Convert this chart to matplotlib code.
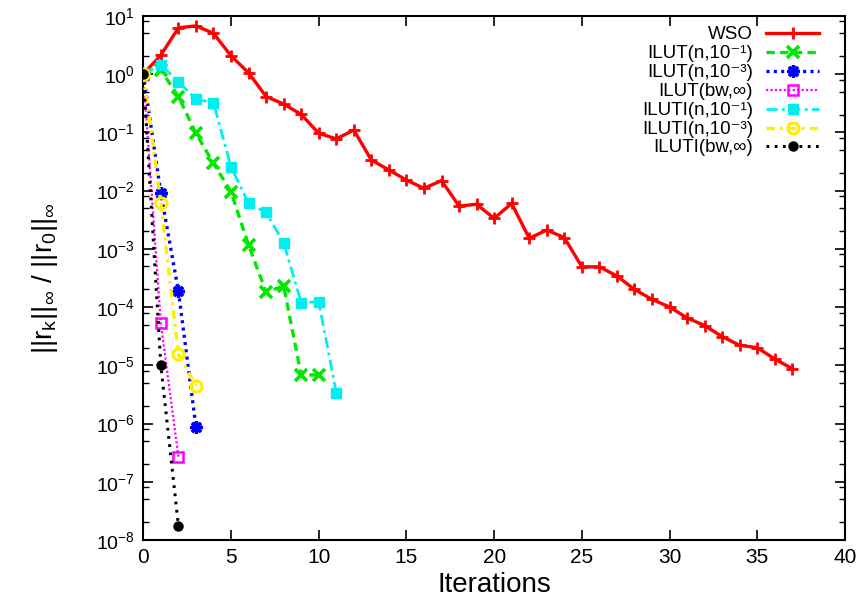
import matplotlib
matplotlib.use("Agg")
import matplotlib.pyplot as plt
from matplotlib.lines import Line2D
from matplotlib.ticker import FixedLocator, LogFormatterMathtext, NullFormatter

plt.rcParams['font.family'] = ['Liberation Sans', 'DejaVu Sans']
plt.rcParams['mathtext.fontset'] = 'custom'
plt.rcParams['mathtext.rm'] = 'Liberation Sans'
plt.rcParams['mathtext.it'] = 'Liberation Sans'
plt.rcParams['mathtext.bf'] = 'Liberation Sans:bold'

# ---- data ----
wso_x = list(range(0, 38))
wso_y = [1.0, 2.1, 6.2, 6.7, 5.0, 2.05, 1.05, 0.41, 0.305, 0.203, 0.096, 0.077,
         0.109, 0.0334, 0.0225, 0.0151, 0.0109, 0.0148, 0.0054, 0.0058, 0.00333,
         0.0060, 0.00151, 0.0021, 0.00155, 4.9e-4, 4.9e-4, 3.4e-4, 2.0e-4,
         1.35e-4, 1.0e-4, 6.5e-5, 4.8e-5, 3.1e-5, 2.2e-5, 2.0e-5, 1.28e-5, 8.7e-6]

ilut1_x = list(range(0, 11))
ilut1_y = [1.0, 1.17, 0.41, 0.096, 0.0293, 0.0095, 0.00116, 1.79e-4, 2.3e-4,
           6.8e-6, 6.8e-6]

ilut3_x = [0, 1, 2, 3]
ilut3_y = [1.0, 0.0090, 1.88e-4, 8.8e-7]

ilutbw_x = [0, 1, 2]
ilutbw_y = [1.0, 5.25e-5, 2.7e-7]

iluti1_x = list(range(0, 12))
iluti1_y = [1.0, 1.43, 0.74, 0.37, 0.32, 0.0256, 0.0060, 0.0042, 0.00127,
            1.19e-4, 1.23e-4, 3.4e-6]

iluti3_x = [0, 1, 2, 3]
iluti3_y = [1.0, 0.0062, 1.56e-5, 4.4e-6]

ilutibw_x = [0, 1, 2]
ilutibw_y = [1.0, 1.0e-5, 1.76e-8]

labels = ["WSO", "ILUT(n,10\u207b\u00b9)", "ILUT(n,10\u207b\u00b3)", "ILUT(bw,\u221e)",
          "ILUTI(n,10\u207b\u00b9)", "ILUTI(n,10\u207b\u00b3)", "ILUTI(bw,\u221e)"]
xticks = [0, 5, 10, 15, 20, 25, 30, 35, 40]
ymajor = [10.0 ** k for k in range(-8, 2)]
yminor = [s * 10.0 ** k for k in range(-8, 1) for s in (2, 5, 8)]

series = [(wso_x, wso_y), (ilut1_x, ilut1_y), (ilut3_x, ilut3_y),
          (ilutbw_x, ilutbw_y), (iluti1_x, iluti1_y), (iluti3_x, iluti3_y),
          (ilutibw_x, ilutibw_y)]

styles = [
    dict(color='#ff0000', lw=2.4, ls='-', marker='+', ms=8, mew=2),
    dict(color='#00e800', lw=2.4, ls=(0, (2.5, 1.6)), marker='x', ms=8, mew=2.6),
    dict(color='#0000ff', lw=2.4, ls=(0, (0.9, 1.3)), marker=(8, 2, 0), ms=9, mew=2.4),
    dict(color='#ff00ff', lw=1.6, ls=(0, (1, 1)), marker='s', ms=7.5, mew=1.8, mfc='none'),
    dict(color='#00eeee', lw=2.0, ls=(0, (4, 1.6, 1, 1.6)), marker='s', ms=7.5),
    dict(color='#ffee00', lw=2.4, ls=(0, (2.5, 1.6, 0.8, 1.6)), marker='o', ms=8, mew=2.2,
         mfc='none'),
    dict(color='#000000', lw=2.2, ls=(0, (0.9, 1.8)), marker='o', ms=6.5),
]

W, H = 859, 607
fig = plt.figure(figsize=(W / 100, H / 100), dpi=100)
ax = fig.add_axes([143.3 / W, 1 - 540 / H, (845 - 143.3) / W, (540 - 15.75) / H])

for i, ((xs, ys), st) in enumerate(zip(series, styles)):
    ax.plot(xs, ys, label=labels[i], zorder=3 + (i == 6), **st)

ax.set_yscale('log')
ax.set_xlim(0, 40)
ax.set_ylim(1e-8, 10)
ax.set_xticks(xticks)
ax.xaxis.set_minor_locator(plt.NullLocator())
ax.yaxis.set_major_locator(FixedLocator(ymajor))
ax.yaxis.set_minor_locator(FixedLocator(yminor))
ax.yaxis.set_minor_formatter(NullFormatter())
ax.yaxis.set_major_formatter(LogFormatterMathtext())

ax.tick_params(axis='both', which='both', direction='in', top=True, right=True,
               labelsize=14, pad=6)
ax.tick_params(axis='x', labelsize=15)
ax.tick_params(which='major', length=7, width=1.2)
ax.tick_params(which='minor', length=4, width=1.0)
for sp in ax.spines.values():
    sp.set_linewidth(1.5)

ax.set_xlabel("Iterations", fontsize=20, labelpad=3)
ax.set_ylabel("||r$_\\mathrm{k}$||$_\\infty$ / ||r$_0$||$_\\infty$", fontsize=20,
              labelpad=26)

# ---- legend (gnuplot style: text right-aligned, sample to the right) ----
row0, dy = 33.0, 18.9
for i, (lab, st) in enumerate(zip(labels, styles)):
    yc = row0 + i * dy
    yf = 1 - yc / H
    fig.text(753 / W, 1 - (yc + 6.0) / H, lab, ha='right', va='baseline', fontsize=13.5)
    xs = [766 / W, 792.5 / W, 819 / W]
    fig.add_artist(Line2D(xs, [yf] * 3, transform=fig.transFigure, markevery=[1], **st))

fig.savefig("out.png", dpi=100)
